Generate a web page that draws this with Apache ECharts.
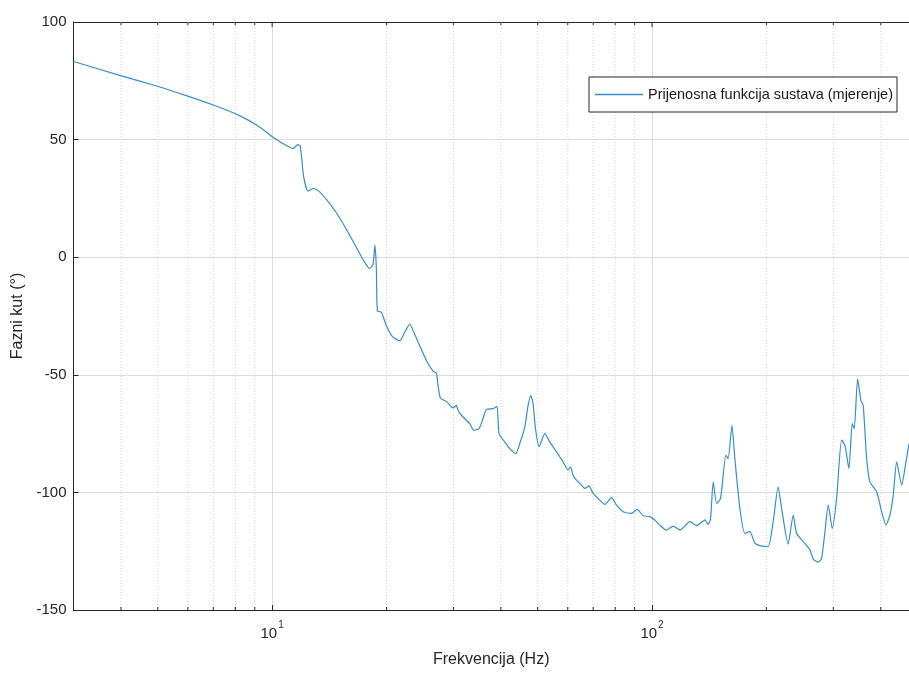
<!DOCTYPE html>
<html>
<head>
<meta charset="utf-8">
<script src="https://cdn.jsdelivr.net/npm/echarts@6/dist/echarts.min.js"></script>
<style>
html,body{margin:0;padding:0;background:#fff;overflow:hidden;}
#chart{width:909px;height:673px;}
</style>
</head>
<body>
<div id="chart"></div>
<script>
// Frequency (Hz) and phase (deg)
const freq = [
  3.0, 3.97, 4.96, 5.94, 6.97, 8.21, 9.27, 10.03, 10.9, 11.35, 11.69, 11.86,
  12.1, 12.43, 12.81, 13.2, 13.89, 14.76, 15.68, 16.67, 17.52, 18.06, 18.43, 18.65,
  18.81, 18.93, 19.39, 19.98, 20.8, 21.67, 22.34, 23.03, 23.49, 24.46, 25.47, 26.51,
  27.06, 27.33, 27.73, 28.75, 29.93, 30.55, 30.85, 31.5, 33.12, 33.94, 35.04, 35.9,
  36.65, 38.15, 39.08, 39.56, 40.95, 42.22, 43.78, 44.86, 46.24, 47.18, 47.96, 48.63,
  49.34, 50.43, 52.2, 53.8, 56.04, 58.33, 60.12, 61.0, 61.97, 63.25, 65.2, 66.53,
  68.28, 69.97, 72.86, 75.1, 78.22, 80.64, 83.93, 88.31, 91.37, 94.75, 98.67, 101.7,
  104.8, 109.2, 113.7, 118.4, 125.8, 131.0, 136.4, 137.8, 140.6, 142.6, 144.9, 147.9,
  151.5, 156.5, 158.6, 162.3, 165.2, 170.3, 175.5, 180.9, 186.5, 192.3, 202.2, 208.4,
  214.8, 219.3, 228.2, 235.3, 240.2, 250.0, 260.4, 265.7, 273.8, 279.5, 285.2, 291.0,
  298.1, 306.1, 315.5, 321.9, 329.8, 336.5, 340.6, 347.7, 354.7, 359.7, 367.2, 374.6,
  390.2, 402.2, 412.9, 423.0, 431.5, 440.6, 454.1, 466.1, 474.7
];
const phase = [
  83.2, 77.3, 72.8, 68.7, 64.8, 60.2, 55.4, 51.1, 47.5, 46.2, 47.9, 47.2,
  34.4, 28.1, 29.2, 28.4, 24.6, 18.9, 11.9, 4.1, -2.2, -4.8, -3.0, 5.1,
  -5.1, -22.8, -23.4, -29.1, -34.0, -35.5, -31.9, -28.4, -31.2, -37.6, -43.9, -48.4,
  -49.3, -54.5, -59.9, -61.3, -64.1, -63.0, -65.1, -67.2, -70.8, -73.6, -72.9, -68.6,
  -64.7, -64.4, -63.4, -75.0, -78.5, -81.4, -83.5, -79.2, -72.2, -63.0, -58.8, -62.3,
  -72.9, -80.6, -75.0, -78.5, -82.8, -87.0, -90.5, -89.1, -92.7, -94.8, -96.9, -98.3,
  -97.2, -100.4, -103.3, -105.1, -102.2, -105.4, -108.2, -108.9, -107.2, -109.9, -110.3, -111.7,
  -113.9, -116.0, -114.3, -116.0, -112.4, -114.1, -112.2, -111.7, -113.6, -111.0, -95.5, -104.7,
  -102.5, -84.2, -85.6, -71.5, -85.6, -106.8, -117.4, -116.7, -121.6, -122.6, -123.0, -112.4,
  -97.6, -106.8, -122.0, -109.6, -117.4, -120.9, -124.4, -128.4, -129.7, -128.0, -116.7, -105.4,
  -115.3, -102.5, -77.8, -80.0, -89.8, -70.8, -72.9, -51.7, -60.9, -63.0, -85.6, -95.5,
  -99.7, -108.2, -113.9, -109.6, -101.1, -87.0, -96.9, -87.0, -79.2
];
const seriesName = 'Prijenosna funkcija sustava (mjerenje)';
const xMajorTicks = [10, 100];
const xMajorLabels = ['{b|10}{s|1}', '{b|10}{s|2}'];
const xMinorTicks = [4, 5, 6, 7, 8, 9, 20, 30, 40, 50, 60, 70, 80, 90, 200, 300, 400];
const xRange = [3, 474.7];
const yTicks = [-150, -100, -50, 0, 50, 100];
const xTitle = 'Frekvencija (Hz)';
const yTitle = 'Fazni kut (°)';

const axisColor = '#262626';
const lineColor = '#3b8ccc';
const font = 'Liberation Sans, Arial, Helvetica, sans-serif';

const chart = echarts.init(document.getElementById('chart'), null, {renderer: 'canvas'});

const lineData = freq.map((f, i) => [f, phase[i]]);
const gridData = xMinorTicks.map(f => [f, 0, 1]).concat(xMajorTicks.map(f => [f, 0, 0]));

const option = {
  animation: false,
  backgroundColor: '#fff',
  textStyle: {fontFamily: font},
  grid: {
    left: 73.5, right: 0, top: 22, bottom: 61,
    show: false
  },
  legend: {
    data: [{name: seriesName, icon: 'rect'}],
    left: 589, top: 77,
    padding: [10, 4, 10, 6],
    itemWidth: 48, itemHeight: 1.3, itemGap: 5,
    borderColor: axisColor, borderWidth: 1,
    backgroundColor: '#fff',
    textStyle: {fontSize: 14.5, color: '#1a1a1a', fontFamily: font}
  },
  xAxis: [{
    type: 'log', logBase: 10,
    min: xRange[0], max: xRange[1],
    name: xTitle, nameLocation: 'middle', nameGap: 42,
    nameTextStyle: {fontSize: 16, color: axisColor, fontFamily: font},
    axisLine: {onZero: false, lineStyle: {color: axisColor, width: 1}},
    axisTick: {inside: true, length: 5, lineStyle: {color: axisColor}},
    splitLine: {show: true, lineStyle: {color: '#dcdcdc', width: 1}},
    axisLabel: {
      showMinLabel: false, showMaxLabel: false,
      margin: 10,
      formatter: function (v) {
        for (let i = 0; i < xMajorTicks.length; i++) {
          if (Math.abs(v - xMajorTicks[i]) / xMajorTicks[i] < 1e-6) return xMajorLabels[i];
        }
        return '';
      },
      rich: {
        b: {fontSize: 15, color: axisColor, fontFamily: font, padding: [6, 0, 0, 0]},
        s: {fontSize: 10, color: axisColor, fontFamily: font, verticalAlign: 'top', padding: [0, 0, 6, 1]}
      }
    }
  }, {
    type: 'log', logBase: 10, position: 'top',
    min: xRange[0], max: xRange[1],
    axisLine: {show: true, onZero: false, lineStyle: {color: axisColor, width: 1}},
    axisTick: {show: false},
    axisLabel: {show: false},
    splitLine: {show: false}
  }],
  yAxis: {
    type: 'value',
    min: yTicks[0], max: yTicks[yTicks.length - 1], interval: 50,
    name: yTitle, nameLocation: 'middle', nameGap: 46, nameRotate: 90,
    nameTextStyle: {fontSize: 16, color: axisColor, fontFamily: font},
    axisLine: {show: true, lineStyle: {color: axisColor, width: 1}},
    axisTick: {show: true, inside: true, length: 5, lineStyle: {color: axisColor}},
    splitLine: {show: true, lineStyle: {color: '#dcdcdc', width: 1}},
    axisLabel: {fontSize: 15, color: axisColor, margin: 7, fontFamily: font}
  },
  series: [
    {
      type: 'custom',
      silent: true,
      z: 1,
      legendHoverLink: false,
      xAxisIndex: 0,
      encode: {x: 0, y: 1},
      data: gridData,
      renderItem: function (params, api) {
        const f = api.value(0);
        const minor = api.value(2) === 1;
        const top = api.coord([f, yTicks[yTicks.length - 1]]);
        const bot = api.coord([f, yTicks[0]]);
        const children = [];
        if (minor) {
          children.push({
            type: 'line',
            shape: {x1: top[0], y1: top[1], x2: bot[0], y2: bot[1]},
            style: {stroke: '#d4d4d4', lineWidth: 1, lineDash: [1, 2]}
          });
          children.push({
            type: 'line',
            shape: {x1: bot[0], y1: bot[1], x2: bot[0], y2: bot[1] - 3},
            style: {stroke: axisColor, lineWidth: 1}
          });
        }
        children.push({
          type: 'line',
          shape: {x1: top[0], y1: top[1], x2: top[0], y2: top[1] + (minor ? 3 : 5)},
          style: {stroke: axisColor, lineWidth: 1}
        });
        return {type: 'group', children: children};
      }
    },
    {
      name: seriesName,
      type: 'line',
      xAxisIndex: 0,
      data: lineData,
      symbol: 'none',
      showSymbol: false,
      smooth: 0.2,
      z: 3,
      lineStyle: {color: lineColor, width: 1.2},
      itemStyle: {color: lineColor}
    }
  ]
};
chart.setOption(option);
</script>
</body>
</html>
